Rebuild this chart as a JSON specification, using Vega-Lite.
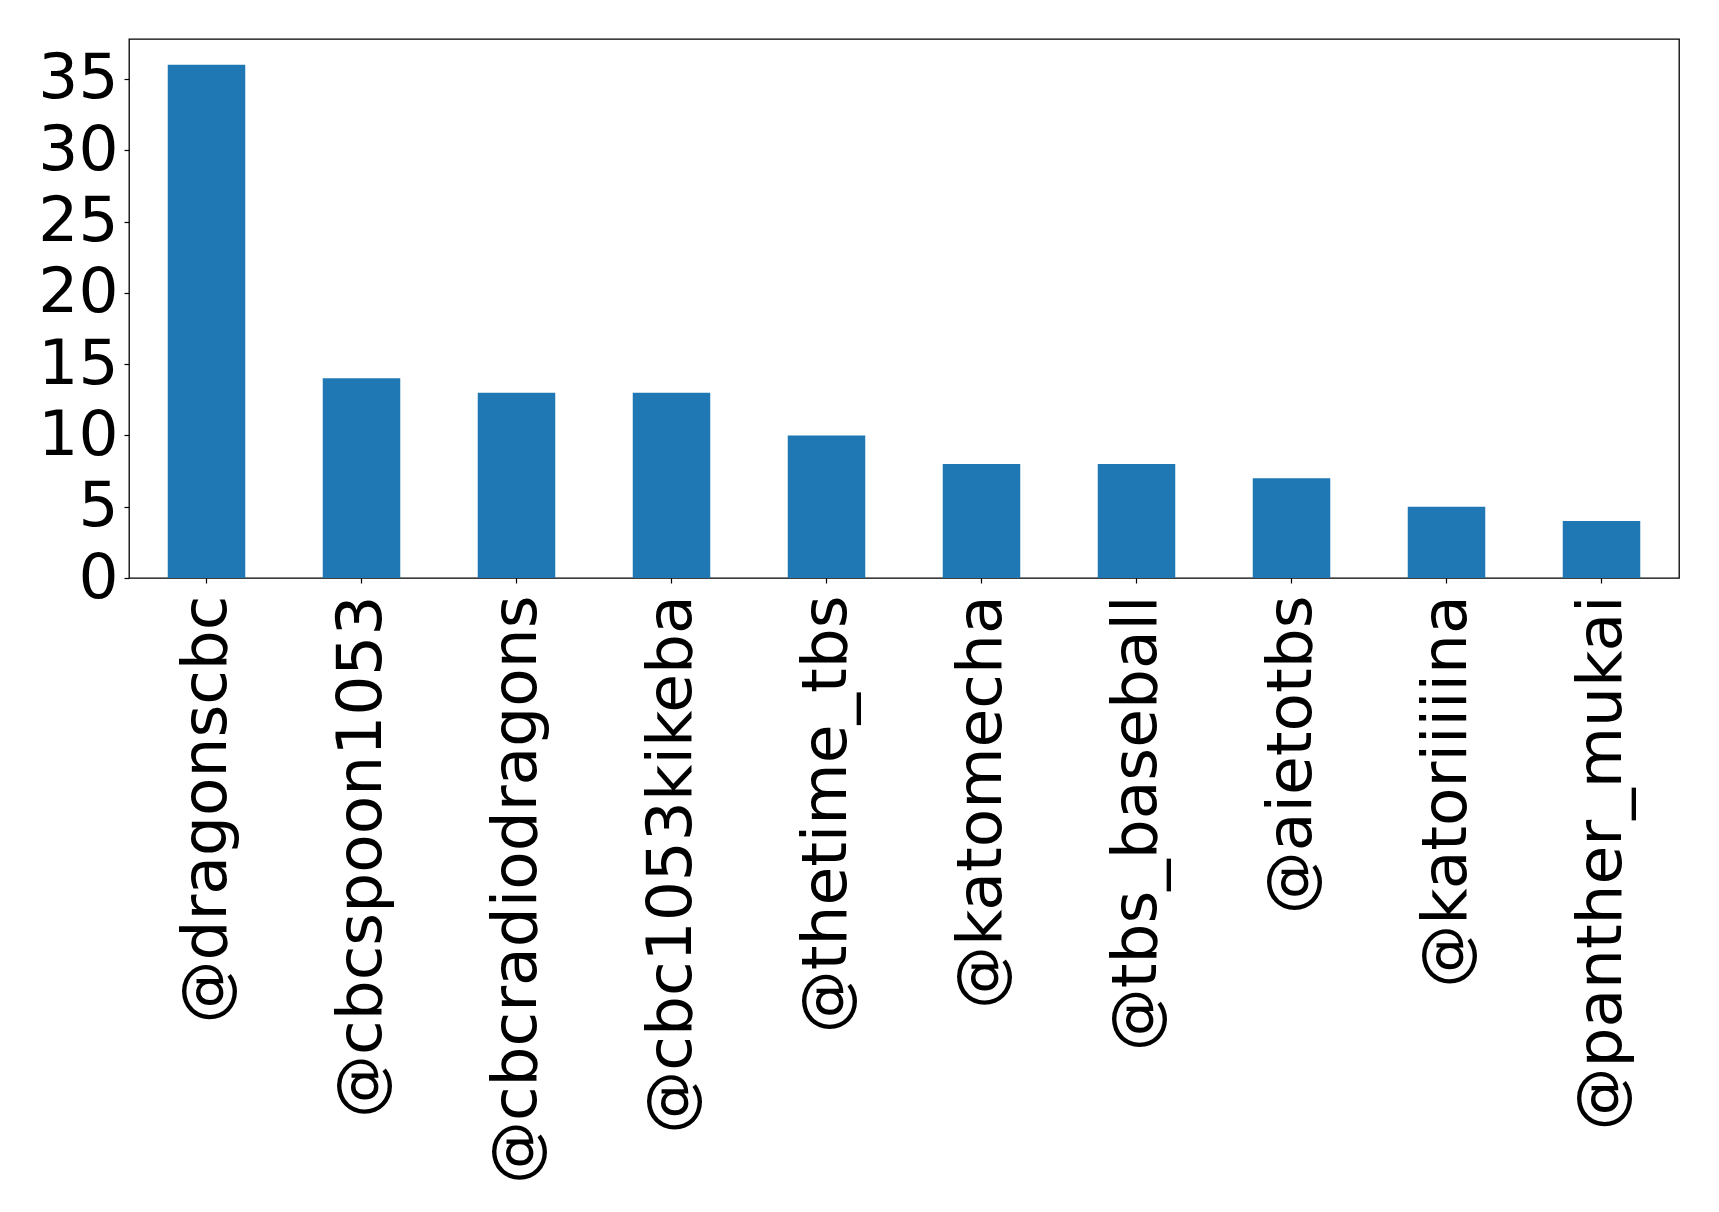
{
  "$schema": "https://vega.github.io/schema/vega-lite/v6.json",
  "autosize": "none",
  "width": 1550,
  "height": 539,
  "padding": {"left": 129, "top": 39, "right": 40, "bottom": 634},
  "background": "white",
  "config": {
    "view": {"stroke": "black", "strokeWidth": 1.3},
    "font": "DejaVu Sans"
  },
  "data": {
    "values": [
      {"account": "@dragonscbc", "count": 36},
      {"account": "@cbcspoon1053", "count": 14},
      {"account": "@cbcradiodragons", "count": 13},
      {"account": "@cbc1053kikeba", "count": 13},
      {"account": "@thetime_tbs", "count": 10},
      {"account": "@katomecha", "count": 8},
      {"account": "@tbs_baseball", "count": 8},
      {"account": "@aietotbs", "count": 7},
      {"account": "@katoriiiiina", "count": 5},
      {"account": "@panther_mukai", "count": 4}
    ]
  },
  "mark": {"type": "bar", "color": "#1f77b4"},
  "encoding": {
    "x": {
      "field": "account",
      "type": "nominal",
      "sort": null,
      "scale": {"paddingInner": 0.5, "paddingOuter": 0.25},
      "axis": {
        "title": null,
        "labelAngle": 270,
        "labelAlign": "right",
        "labelBaseline": "middle",
        "labelFont": "DejaVu Sans",
        "labelFontSize": 63,
        "labelColor": "black",
        "labelLimit": 0,
        "labelPadding": 12,
        "tickColor": "black",
        "tickSize": 5,
        "tickWidth": 1.2,
        "domain": false,
        "grid": false
      }
    },
    "y": {
      "field": "count",
      "type": "quantitative",
      "scale": {"domain": [0, 37.8], "nice": false},
      "axis": {
        "title": null,
        "values": [0, 5, 10, 15, 20, 25, 30, 35],
        "labelFont": "DejaVu Sans",
        "labelFontSize": 63,
        "labelColor": "black",
        "labelPadding": 6,
        "labelBaseline": "middle",
        "tickColor": "black",
        "tickSize": 5,
        "tickWidth": 1.2,
        "domain": false,
        "grid": false
      }
    }
  }
}
